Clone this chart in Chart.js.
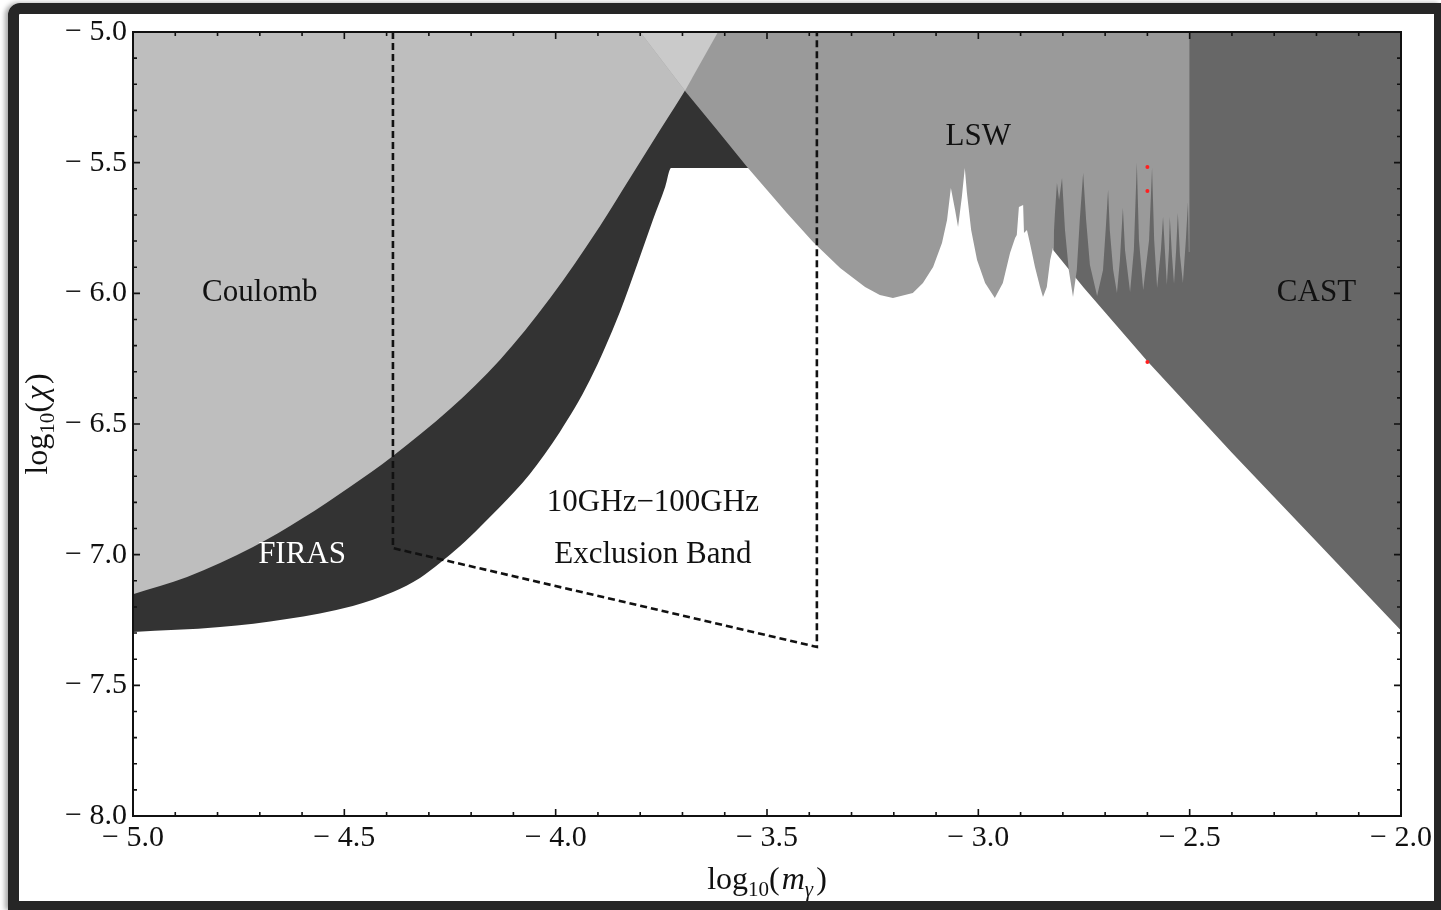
<!DOCTYPE html>
<html>
<head>
<meta charset="utf-8">
<script src="https://cdn.jsdelivr.net/npm/chart.js@4.4.1/dist/chart.umd.min.js"></script>
<style>
html, body { margin: 0; padding: 0; background: #fff; }
#wrap { position: relative; width: 1441px; height: 910px; overflow: hidden; background: #fff; }
#frame { position: absolute; left: 8px; top: 3px; width: 1433px; height: 907px; box-sizing: border-box;
  border-style: solid; border-color: #262626; border-width: 11px 7px 9px 11px;
  border-radius: 12px 0 0 0; box-shadow: -3px 0 5px rgba(0,0,0,0.35); }
canvas { position: absolute; left: 0; top: 0; }
</style>
</head>
<body>
<div id="wrap">
  <div id="frame"></div>
  <canvas id="myChart" width="1441" height="910"></canvas>
</div>
<script>
// boundaries: log10(m) and log10(chi)
const coulombM   = [-5.0, -4.872, -4.716, -4.598, -4.487, -4.385, -4.25, -4.132, -4.013, -3.895, -3.824, -3.753, -3.682, -3.616];
const coulombChi = [-7.151, -7.085, -6.971, -6.86, -6.741, -6.622, -6.443, -6.255, -6.018, -5.742, -5.559, -5.375, -5.191, -5.0];

const firasM   = [-5.0, -4.794, -4.636, -4.48, -4.385, -4.321, -4.274, -4.226, -4.179, -4.132, -4.061, -3.99, -3.919, -3.848, -3.805, -3.77, -3.741, -3.727, -3.54];
const firasChi = [-7.296, -7.277, -7.246, -7.196, -7.143, -7.089, -7.032, -6.967, -6.894, -6.818, -6.691, -6.531, -6.332, -6.071, -5.88, -5.719, -5.593, -5.52, -5.52];

const lswM = [-3.8, -3.692, -3.618, -3.547, -3.5, -3.453, -3.391, -3.327, -3.268, -3.233, -3.202, -3.155, -3.131, -3.107, -3.086, -3.074,
  -3.065, -3.055, -3.048, -3.039, -3.032, -3.027, -3.017, -3.003, -2.984, -2.961, -2.942, -2.925, -2.913, -2.909, -2.904, -2.894,
  -2.892, -2.885, -2.878, -2.866, -2.854, -2.847, -2.838, -2.83, -2.823, -2.819, -2.814, -2.809, -2.802, -2.795, -2.786, -2.776,
  -2.767, -2.76, -2.752, -2.745, -2.736, -2.719, -2.705, -2.698, -2.693, -2.689, -2.681, -2.672, -2.665, -2.658, -2.653, -2.641,
  -2.632, -2.625, -2.62, -2.61, -2.596, -2.589, -2.584, -2.577, -2.568, -2.563, -2.558, -2.554, -2.549, -2.547, -2.542, -2.537,
  -2.532, -2.528, -2.523, -2.516, -2.509, -2.504, -2.502, -2.5, -2.5];
const lswChi = [-5.0, -5.23, -5.375, -5.517, -5.605, -5.693, -5.804, -5.903, -5.976, -6.006, -6.018, -5.999, -5.96, -5.899, -5.807, -5.719,
  -5.597, -5.681, -5.746, -5.631, -5.52, -5.616, -5.758, -5.872, -5.96, -6.018, -5.96, -5.846, -5.788, -5.777, -5.67, -5.662,
  -5.769, -5.758, -5.807, -5.899, -5.976, -6.014, -5.976, -5.872, -5.823, -5.7, -5.578, -5.643, -5.559, -5.758, -5.911, -6.014,
  -5.911, -5.719, -5.54, -5.719, -5.892, -6.01, -5.911, -5.739, -5.605, -5.758, -5.911, -5.999, -5.872, -5.673, -5.834, -5.995,
  -5.834, -5.501, -5.796, -5.987, -5.796, -5.52, -5.796, -5.98, -5.834, -5.708, -5.853, -5.968, -5.834, -5.708, -5.853, -5.964,
  -5.834, -5.693, -5.853, -5.96, -5.796, -5.651, -5.842, -5.842, -5.0];

const overlapM   = [-3.8, -3.694, -3.616];
const overlapChi = [-5.0, -5.225, -5.0];

const castM   = [-2.823, -2.75, -2.6, -2.4, -2.2, -2.0];
const castChi = [-5.834, -5.98, -6.26, -6.61, -6.95, -7.29];

const bandM   = [-4.385, -4.385, -3.382, -3.382];
const bandChi = [-5.0, -6.975, -7.353, -5.0];

const markM   = [-2.6, -2.6, -2.6];
const markChi = [-5.517, -5.608, -6.263];

const xTickValues = [-5.0, -4.5, -4.0, -3.5, -3.0, -2.5, -2.0];
const yTickValues = [-8.0, -7.5, -7.0, -6.5, -6.0, -5.5, -5.0];

const labelText = ['Coulomb', 'FIRAS', '10GHz\u2212100GHz', 'Exclusion Band', 'LSW', 'CAST'];
const labelM    = [-4.7, -4.6, -3.77, -3.77, -3.0, -2.2];
const labelChi  = [-6.0, -7.0, -6.8, -7.0, -5.4, -6.0];

const SERIF = '"Liberation Serif", "Times New Roman", serif';

function pts(xs, ys) { return xs.map((v, i) => ({x: v, y: ys[i]})); }

function region(data, color, order, smooth) {
  const ds = { data: data, backgroundColor: color, borderColor: 'rgba(0,0,0,0)', borderWidth: 0,
    pointRadius: 0, fill: 'end', tension: 0, order: order };
  if (smooth) ds.cubicInterpolationMode = 'monotone';
  return ds;
}

function fmt(v) { return (v < 0 ? '\u2212 ' : '') + Math.abs(v).toFixed(1); }

function drawParts(ctx, parts, cx, cy) {
  let w = 0;
  parts.forEach(p => { ctx.font = p.f; w += ctx.measureText(p.t).width + (p.gap || 0); });
  let px = cx - w / 2;
  parts.forEach(p => {
    ctx.font = p.f;
    ctx.fillText(p.t, px, cy + (p.dy || 0));
    px += ctx.measureText(p.t).width + (p.gap || 0);
  });
}

const decor = {
  id: 'decor',
  afterDatasetsDraw(chart) {
    const {ctx, scales: {x, y}} = chart;
    ctx.save();
    ctx.font = '31px ' + SERIF;
    ctx.textAlign = 'center';
    ctx.textBaseline = 'middle';
    labelText.forEach((t, i) => {
      ctx.fillStyle = t === 'FIRAS' ? '#ffffff' : '#111111';
      ctx.fillText(t, x.getPixelForValue(labelM[i]), y.getPixelForValue(labelChi[i]));
    });
    ctx.restore();
  },
  afterDraw(chart) {
    const {ctx, chartArea: a, scales: {x, y}} = chart;
    ctx.save();
    ctx.strokeStyle = '#111';
    ctx.lineWidth = 2;
    ctx.strokeRect(a.left, a.top, a.right - a.left, a.bottom - a.top);
    // inward ticks every 0.1
    ctx.lineWidth = 1.6;
    ctx.beginPath();
    for (let i = 0; i <= 30; i++) {
      const len = i % 5 === 0 ? 7 : 4;
      const px = x.getPixelForValue(-5 + i / 10);
      ctx.moveTo(px, a.bottom); ctx.lineTo(px, a.bottom - len);
      ctx.moveTo(px, a.top); ctx.lineTo(px, a.top + len);
      const py = y.getPixelForValue(-8 + i / 10);
      ctx.moveTo(a.left, py); ctx.lineTo(a.left + len, py);
      ctx.moveTo(a.right, py); ctx.lineTo(a.right - len, py);
    }
    ctx.stroke();

    // axis titles
    ctx.fillStyle = '#111';
    ctx.textAlign = 'left';
    ctx.textBaseline = 'alphabetic';
    const big = '32px ' + SERIF, small = '21px ' + SERIF;
    const bigI = 'italic 32px ' + SERIF, smallI = 'italic 21px ' + SERIF;
    drawParts(ctx, [
      {t: 'log', f: big}, {t: '10', f: small, dy: 7}, {t: '(', f: big, gap: 2},
      {t: 'm', f: bigI}, {t: '\u03b3', f: smallI, dy: 7, gap: 3}, {t: ')', f: big}
    ], (a.left + a.right) / 2, 889);
    ctx.save();
    ctx.translate(47, (a.top + a.bottom) / 2);
    ctx.rotate(-Math.PI / 2);
    drawParts(ctx, [
      {t: 'log', f: big}, {t: '10', f: small, dy: 7}, {t: '(', f: big, gap: 2},
      {t: '\u03c7', f: bigI, gap: 2}, {t: ')', f: big}
    ], 0, 0);
    ctx.restore();
    ctx.restore();
  }
};

const ctx = document.getElementById('myChart');
new Chart(ctx, {
  type: 'line',
  data: {
    datasets: [
      region(pts(firasM, firasChi), '#333333', 7, true),
      region(pts(castM, castChi), '#676767', 6, false),
      region(pts(coulombM, coulombChi), '#bebebe', 5, true),
      region(pts(lswM, lswChi), '#9a9a9a', 4, false),
      region(pts(overlapM, overlapChi), '#cacaca', 3, false),
      { data: pts(bandM, bandChi), borderColor: '#111', borderWidth: 2.6, borderDash: [7, 4],
        pointRadius: 0, fill: false, tension: 0, order: 1 },
      { data: pts(markM, markChi), showLine: false, pointRadius: 2, pointBackgroundColor: '#ff2020',
        pointBorderWidth: 0, fill: false, order: 0 }
    ]
  },
  options: {
    responsive: false,
    animation: false,
    layout: { padding: { left: 20, right: 40, top: 32, bottom: 0 } },
    plugins: { legend: { display: false }, tooltip: { enabled: false } },
    scales: {
      x: {
        type: 'linear', min: -5, max: -2,
        afterBuildTicks: s => { s.ticks = xTickValues.map(v => ({value: v})); },
        afterFit: s => { s.height = 94; },
        grid: { display: false, drawTicks: false },
        border: { display: false },
        ticks: { autoSkip: false, maxRotation: 0, padding: 4, color: '#111',
          font: { family: SERIF, size: 30 }, callback: v => fmt(v) }
      },
      y: {
        type: 'linear', min: -8, max: -5,
        afterBuildTicks: s => { s.ticks = yTickValues.map(v => ({value: v})); },
        afterFit: s => { s.width = 113; },
        grid: { display: false, drawTicks: false },
        border: { display: false },
        ticks: { autoSkip: false, padding: 6, color: '#111',
          font: { family: SERIF, size: 30 }, callback: v => fmt(v) }
      }
    }
  },
  plugins: [decor]
});
</script>
</body>
</html>
